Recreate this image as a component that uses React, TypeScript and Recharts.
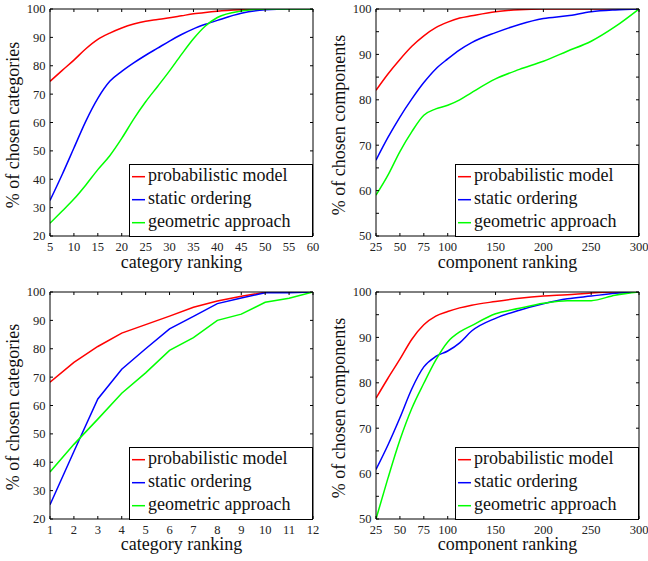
import React from 'react';
import { LineChart, Line, XAxis, YAxis, Legend } from 'recharts';

const FONT = 'Liberation Serif';

const seriesNames = ['probabilistic model', 'static ordering', 'geometric approach'];
const seriesColors = ['#ff0000', '#0000ff', '#00ff00'];

// Top-left: category ranking (5..60)
const catX = [5, 7.5, 10, 12.5, 15, 17.5, 20, 22.5, 25, 27.5, 30, 32.5, 35, 37.5, 40, 45, 50, 55, 60];
const catProb = [74.5, 78.3, 82, 86, 89.3, 91.5, 93.3, 94.7, 95.7, 96.3, 96.9, 97.6, 98.3, 98.8, 99.2, 99.7, 100, 100, 100];
const catStatic = [32.5, 41.5, 51, 60.5, 68.5, 74.5, 78, 81, 83.7, 86.2, 88.7, 91, 93, 94.6, 96, 98.5, 99.7, 100, 100];
const catGeo = [24.5, 28.7, 33, 38, 43.4, 48.3, 54.4, 61.2, 67.3, 72.7, 78.2, 84, 89.5, 94, 97, 99.3, 100, 100, 100];

// Top-right: component ranking (25..300)
const compX = [25, 37.5, 50, 62.5, 75, 87.5, 100, 112.5, 125, 150, 175, 200, 225, 250, 275, 300];
const compProb = [82.1, 85.7, 88.9, 91.8, 94.1, 95.9, 97.1, 98, 98.5, 99.4, 99.85, 100, 100, 100, 100, 100];
const compStatic = [66.7, 71.7, 76.2, 80.2, 83.8, 86.8, 89, 91, 92.6, 94.8, 96.6, 97.9, 98.5, 99.4, 99.8, 100];
const compGeo = [59, 63.4, 68.6, 73, 76.6, 78, 78.8, 80, 81.6, 84.6, 86.7, 88.5, 90.7, 92.9, 96.1, 100];

// Bottom-left: category ranking (1..12)
const rankX = [1, 2, 3, 4, 5, 6, 7, 8, 9, 10, 11, 12];
const rankProb = [68.2, 75.2, 80.8, 85.5, 88.5, 91.5, 94.6, 96.8, 98.5, 99.9, 100, 100];
const rankStatic = [25, 43.8, 62.3, 72.8, 80, 87, 91.4, 95.9, 97.9, 99.7, 99.7, 100];
const rankGeo = [36.6, 46.3, 55.2, 64.3, 71.5, 79.4, 83.9, 90, 92.2, 96.4, 97.8, 100];

// Bottom-right: component ranking (25..300)
const comp2X = [25, 37.5, 50, 62.5, 75, 87.5, 100, 112.5, 125, 150, 175, 200, 225, 250, 275, 300];
const comp2Prob = [76.6, 81, 85.2, 89.6, 92.8, 94.7, 95.7, 96.5, 97.1, 97.9, 98.6, 99.1, 99.4, 99.8, 100, 100];
const comp2Static = [60.9, 66.3, 72.3, 78.7, 83.5, 85.8, 87, 88.8, 91.4, 94.2, 96, 97.4, 98.5, 99.1, 99.7, 100];
const comp2Geo = [50, 59, 67.4, 74.4, 79.9, 85, 89, 91.2, 92.6, 95.2, 96.4, 97.5, 98.1, 98.1, 99.3, 100];

// Tick labels
const catTicks = [5, 10, 15, 20, 25, 30, 35, 40, 45, 50, 55, 60];
const compTicks = [25, 50, 75, 100, 150, 200, 250, 300];
const rankTicks = [1, 2, 3, 4, 5, 6, 7, 8, 9, 10, 11, 12];
const pctTicks20 = [20, 30, 40, 50, 60, 70, 80, 90, 100];
const pctTicks50 = [50, 55, 60, 65, 70, 75, 80, 85, 90, 95, 100];

function buildRows(xs: number[], a: number[], b: number[], c: number[]) {
  return xs.map((x, i) => ({ x, s0: a[i], s1: b[i], s2: c[i] }));
}

type PanelCfg = {
  left: number; top: number; width: number; height: number;
  mt: number; mr: number; yw: number; xh: number;
  data: any[]; xDomain: [number, number]; xTicks: number[];
  yDomain: [number, number]; yTicks: number[];
  xLabel: string; yLabel: string; curve: 'monotone' | 'linear';
  yDx: number; yDy: number; xOff: number;
};

const panels: PanelCfg[] = [
  {
    left: 0, top: 0, width: 324, height: 280, mt: 8, mr: 10, yw: 50, xh: 44,
    data: buildRows(catX, catProb, catStatic, catGeo), xDomain: [5, 60], xTicks: catTicks,
    yDomain: [20, 100], yTicks: pctTicks20, xLabel: 'category ranking', yLabel: '% of chosen categories',
    curve: 'monotone', yDx: -12.8, yDy: 2.5, xOff: 12.5,
  },
  {
    left: 324, top: 0, width: 324, height: 280, mt: 8, mr: 8, yw: 52, xh: 44,
    data: buildRows(compX, compProb, compStatic, compGeo), xDomain: [25, 300], xTicks: compTicks,
    yDomain: [50, 100], yTicks: pctTicks50, xLabel: 'component ranking', yLabel: '% of chosen components',
    curve: 'monotone', yDx: -11.6, yDy: 2.5, xOff: 12.5,
  },
  {
    left: 0, top: 280, width: 324, height: 281, mt: 11, mr: 10, yw: 50, xh: 42,
    data: buildRows(rankX, rankProb, rankStatic, rankGeo), xDomain: [1, 12], xTicks: rankTicks,
    yDomain: [20, 100], yTicks: pctTicks20, xLabel: 'category ranking', yLabel: '% of chosen categories',
    curve: 'linear', yDx: -12.8, yDy: 1.5, xOff: 11.5,
  },
  {
    left: 324, top: 280, width: 324, height: 281, mt: 11, mr: 8, yw: 52, xh: 42,
    data: buildRows(comp2X, comp2Prob, comp2Static, comp2Geo), xDomain: [25, 300], xTicks: compTicks,
    yDomain: [50, 100], yTicks: pctTicks50, xLabel: 'component ranking', yLabel: '% of chosen components',
    curve: 'monotone', yDx: -11.6, yDy: 2.5, xOff: 11.5,
  },
];

const tickStyle = { fill: '#222', fontSize: 12.5, fontFamily: FONT };

function LegendBox() {
  return (
    <svg width={184} height={73} style={{ display: 'block' }}>
      <rect x={0.5} y={0.5} width={183} height={72} fill="#fff" stroke="#000" strokeWidth={1} />
      {seriesNames.map((name, i) => (
        <g key={name}>
          <line x1={3} x2={16} y1={12.7 + 23 * i} y2={12.7 + 23 * i} stroke={seriesColors[i]} strokeWidth={1.5} />
          <text x={19} y={16.8 + 23 * i} fontSize={18} fontFamily={FONT} fill="#111">{name}</text>
        </g>
      ))}
    </svg>
  );
}

function Panel({ p }: { p: PanelCfg }) {
  const plotRight = p.width - p.mr - 1;
  const plotBottom = p.height - p.xh;
  const yFmt = (v: number) => (v % 10 === 0 ? String(v) : '');
  return (
    <div style={{ position: 'absolute', left: p.left, top: p.top, fontFamily: FONT }}>
      <LineChart width={p.width} height={p.height} data={p.data} margin={{ top: p.mt, right: p.mr, left: 0, bottom: 0 }}>
        <XAxis
          xAxisId="b" dataKey="x" type="number" domain={p.xDomain} ticks={p.xTicks} interval={0}
          allowDataOverflow height={p.xh} tickSize={-3} tickMargin={9} stroke="#000" tick={tickStyle}
          label={{ value: p.xLabel, position: 'insideBottom', offset: p.xOff, fill: '#111', fontSize: 18, fontFamily: FONT }}
        />
        <XAxis
          xAxisId="t" orientation="top" dataKey="x" type="number" domain={p.xDomain} ticks={p.xTicks} interval={0}
          allowDataOverflow height={1} tickSize={-3} tickMargin={0} stroke="#000" tickFormatter={() => ''}
        />
        <YAxis
          yAxisId="l" type="number" domain={p.yDomain} ticks={p.yTicks} interval={0} allowDataOverflow
          width={p.yw} tickSize={-3} tickMargin={7.4} stroke="#000" tick={tickStyle} tickFormatter={yFmt}
          label={{ value: p.yLabel, angle: -90, position: 'center', dx: p.yDx, dy: p.yDy, fill: '#111', fontSize: 18, fontFamily: FONT }}
        />
        <YAxis
          yAxisId="r" orientation="right" type="number" domain={p.yDomain} ticks={p.yTicks} interval={0} allowDataOverflow
          width={1} tickSize={-3} tickMargin={0} stroke="#000" tickFormatter={() => ''}
        />
        <Legend
          layout="vertical" align="center" verticalAlign="middle"
          wrapperStyle={{ left: plotRight - 184, top: plotBottom - 72, width: 184, height: 73, right: 'auto', bottom: 'auto' }}
          content={() => <LegendBox />}
        />
        {seriesNames.map((name, i) => (
          <Line
            key={name} xAxisId="b" yAxisId="l" type={p.curve} dataKey={`s${i}`} name={name}
            stroke={seriesColors[i]} strokeWidth={1.5} dot={false} isAnimationActive={false}
          />
        ))}
      </LineChart>
    </div>
  );
}

export default function App() {
  return (
    <div style={{ position: 'absolute', left: 0, top: 0, width: 648, height: 561, background: '#fff', overflow: 'hidden' }}>
      {panels.map((p, i) => (
        <Panel key={i} p={p} />
      ))}
    </div>
  );
}
